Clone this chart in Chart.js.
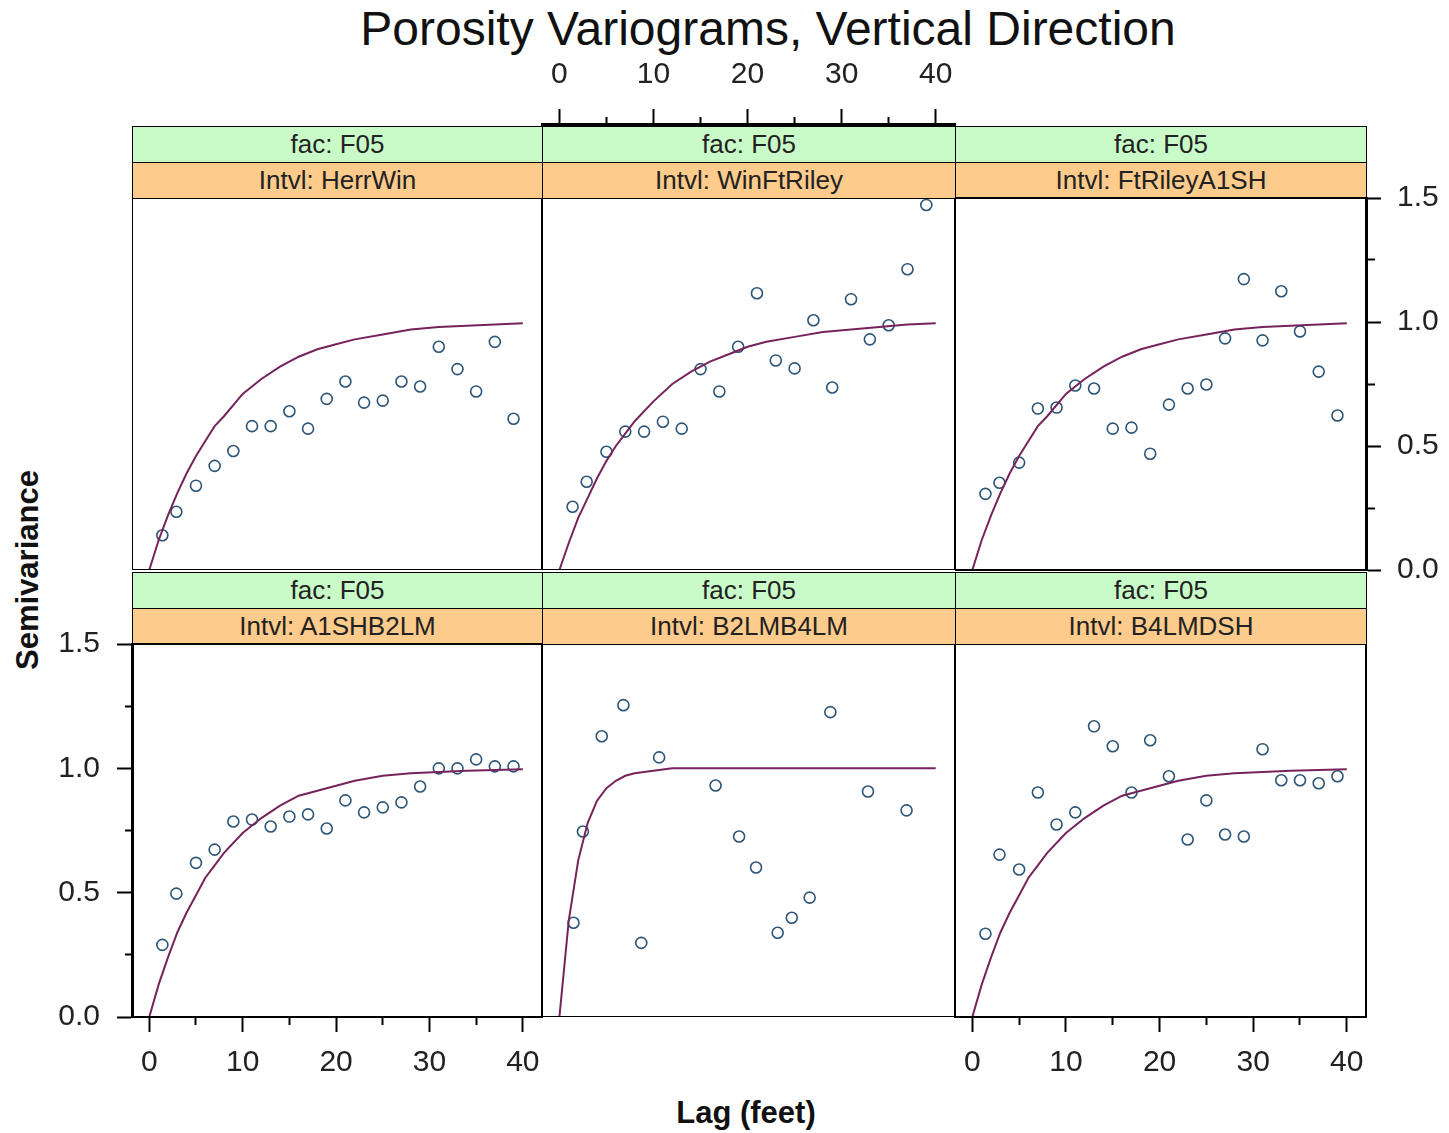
<!DOCTYPE html>
<html>
<head>
<meta charset="utf-8">
<title>Porosity Variograms</title>
<script src="https://cdn.jsdelivr.net/npm/chart.js@4.4.1/dist/chart.umd.min.js"></script>
<style>
  body { margin: 0; background: #fff; width: 1449px; height: 1133px; position: relative; overflow: hidden;
         font-family: 'Liberation Sans', Arial, sans-serif; }
  canvas { position: absolute; }
  .strip { position: absolute; box-sizing: border-box; border: 1px solid #000; text-align: center;
           font-size: 26px; color: #222; }
  .green { background: #c8fbc8; }
  .orange { background: #fdcb8b; }
  #title { position: absolute; left: 768px; top: 5px; transform: translateX(-50%); white-space: nowrap;
           font-size: 48px; line-height: 48px; color: #111; }
  #ylab { position: absolute; left: 28px; top: 570px; transform: translate(-50%, -50%) rotate(-90deg);
          white-space: nowrap; font-size: 31px; font-weight: bold; color: #111; }
  #xlab { position: absolute; left: 746px; top: 1113px; transform: translate(-50%, -50%);
          white-space: nowrap; font-size: 31px; font-weight: bold; color: #111; }
</style>
</head>
<body>
<div id="title">Porosity Variograms, Vertical Direction</div>
<div id="ylab">Semivariance</div>
<div id="xlab">Lag (feet)</div>
<script>
// lag distances (feet) of the experimental variogram points
var lags = [1.4, 2.9, 5, 7, 9, 11, 13, 15, 17, 19, 21, 23, 25, 27, 29, 31, 33, 35, 37, 39];
var lagsB2LM = [1.5, 2.5, 4.5, 6.8, 8.7, 10.6, 16.6, 19.1, 20.9, 23.2, 24.7, 26.6, 28.8, 32.8, 36.9];

// experimental semivariance per interval
var herrWin     = [0.14, 0.235, 0.34, 0.42, 0.48, 0.58, 0.58, 0.64, 0.57, 0.69, 0.76, 0.675, 0.683, 0.76, 0.74, 0.90, 0.81, 0.72, 0.92, 0.61];
var winFtRiley  = [0.255, 0.356, 0.477, 0.558, 0.558, 0.598, 0.57, 0.81, 0.72, 0.90, 1.116, 0.845, 0.813, 1.007, 0.736, 1.092, 0.93, 0.987, 1.213, 1.472];
var ftRileyA1SH = [0.307, 0.352, 0.433, 0.651, 0.655, 0.744, 0.732, 0.57, 0.574, 0.469, 0.667, 0.732, 0.748, 0.934, 1.173, 0.926, 1.124, 0.962, 0.80, 0.623];
var a1shB2LM    = [0.29, 0.496, 0.62, 0.673, 0.786, 0.794, 0.766, 0.806, 0.815, 0.758, 0.871, 0.823, 0.843, 0.863, 0.927, 1.0, 1.0, 1.036, 1.008, 1.008];
var b2lmB4LM    = [0.379, 0.746, 1.129, 1.254, 0.298, 1.044, 0.931, 0.726, 0.601, 0.339, 0.399, 0.48, 1.226, 0.907, 0.831];
var b4lmDSH     = [0.335, 0.653, 0.593, 0.903, 0.774, 0.823, 1.169, 1.089, 0.903, 1.113, 0.968, 0.714, 0.871, 0.734, 0.726, 1.077, 0.952, 0.952, 0.94, 0.968];

// fitted model curves
var curveLags   = [0, 1, 2, 3, 4, 5, 6, 7, 8, 10, 12, 14, 16, 18, 20, 22, 25, 28, 31, 34, 37, 40];
var modelHerr   = [0, 0.12, 0.22, 0.31, 0.39, 0.46, 0.52, 0.58, 0.62, 0.71, 0.77, 0.82, 0.86, 0.89, 0.91, 0.93, 0.95, 0.97, 0.98, 0.985, 0.99, 0.995];
var modelWin    = [0, 0.11, 0.21, 0.29, 0.37, 0.44, 0.50, 0.55, 0.60, 0.68, 0.75, 0.80, 0.84, 0.87, 0.90, 0.92, 0.94, 0.96, 0.97, 0.98, 0.99, 0.995];
var modelFtR    = [0, 0.12, 0.22, 0.31, 0.39, 0.46, 0.52, 0.58, 0.62, 0.71, 0.77, 0.82, 0.86, 0.89, 0.91, 0.93, 0.95, 0.97, 0.98, 0.985, 0.99, 0.995];
var modelA1SH   = [0, 0.13, 0.24, 0.34, 0.42, 0.49, 0.56, 0.61, 0.66, 0.74, 0.80, 0.85, 0.89, 0.91, 0.93, 0.95, 0.97, 0.98, 0.985, 0.99, 0.993, 0.996];
var modelB2LM   = [0, 0.39, 0.63, 0.78, 0.87, 0.92, 0.95, 0.97, 0.98, 0.99, 1.0, 1.0, 1.0, 1.0, 1.0, 1.0, 1.0, 1.0, 1.0, 1.0, 1.0, 1.0];
var modelB4LM   = [0, 0.13, 0.24, 0.34, 0.42, 0.49, 0.56, 0.61, 0.66, 0.74, 0.80, 0.85, 0.89, 0.91, 0.93, 0.95, 0.97, 0.98, 0.985, 0.99, 0.993, 0.996];

// axis ticks
var lagTicks  = [0, 5, 10, 15, 20, 25, 30, 35, 40];
var semiTicks = [0, 0.25, 0.5, 0.75, 1.0, 1.25, 1.5];

var facLabel = 'fac: F05';
var intervals = ['HerrWin', 'WinFtRiley', 'FtRileyA1SH', 'A1SHB2LM', 'B2LMB4LM', 'B4LMDSH'];

var pointColor = '#2c5577';
var lineColor = '#76235b';
var tickFont = { family: "'Liberation Sans', Arial, sans-serif", size: 30 };

var colX = [132, 542, 955, 1366];
var rowY = [198, 644];
var rowBottom = [570, 1017];
var M = 50; // spare room around a plot for axis labels

// minor ticks: only a short piece of the tick line is drawn
function xDash(pos) {
  return function (ctx) {
    if (!ctx.tick) return [];
    if (ctx.tick.value % 10 === 0) return [];
    return pos === 'top' ? [0, 8, 7, 100] : [7, 100];
  };
}
function yDash(pos) {
  return function (ctx) {
    if (!ctx.tick) return [];
    var v = Math.round(ctx.tick.value * 100);
    if (v % 50 === 0) return [];
    return pos === 'left' ? [0, 8, 7, 100] : [7, 100];
  };
}

function xScale(show, pos, size, pad) {
  return {
    type: 'linear', min: -1.85, max: 42.05, position: pos, display: show,
    afterBuildTicks: function (s) { s.ticks = lagTicks.map(function (v) { return { value: v }; }); },
    afterFit: function (s) { if (show) s.height = size; },
    border: { display: true, color: '#000', width: pos === 'top' ? 3 : 2 },
    grid: { drawOnChartArea: false, tickLength: 15, tickWidth: 2, tickColor: '#000', tickBorderDash: xDash(pos) },
    ticks: { autoSkip: false, maxRotation: 0, padding: pad, color: '#222', font: tickFont,
             callback: function (v) { return v % 10 === 0 ? String(v) : ''; } }
  };
}

function yScale(show, pos, size, pad) {
  return {
    type: 'linear', min: 0, max: 1.5, position: pos, display: show,
    afterBuildTicks: function (s) { s.ticks = semiTicks.map(function (v) { return { value: v }; }); },
    afterFit: function (s) { if (show) s.width = size; },
    border: { display: true, color: '#000', width: 3 },
    grid: { drawOnChartArea: false, tickLength: 15, tickWidth: 2, tickColor: '#000', tickBorderDash: yDash(pos) },
    ticks: { autoSkip: false, padding: pad, color: '#222', font: tickFont,
             callback: function (v) { return Math.round(v * 100) % 50 === 0 ? v.toFixed(1) : ''; } }
  };
}

var frame = {
  id: 'frame',
  afterDraw: function (chart) {
    if (!chart.options.plugins.frame || !chart.options.plugins.frame.on) return;
    var a = chart.chartArea, c = chart.ctx;
    c.save();
    c.strokeStyle = '#000';
    c.lineWidth = 2;
    c.strokeRect(a.left, a.top, a.right - a.left, a.bottom - a.top);
    c.restore();
  }
};

function addCanvas(x, y, w, h) {
  var cv = document.createElement('canvas');
  cv.width = w; cv.height = h;
  cv.style.left = x + 'px'; cv.style.top = y + 'px';
  cv.style.width = w + 'px'; cv.style.height = h + 'px';
  document.body.appendChild(cv);
  return cv;
}

function addStrips(col, row, name) {
  var left = colX[col], width = colX[col + 1] - colX[col];
  var top = rowY[row] - 72;
  [[facLabel, 'green', top], ['Intvl: ' + name, 'orange', top + 36]].forEach(function (s) {
    var d = document.createElement('div');
    d.className = 'strip ' + s[1];
    d.style.left = left + 'px'; d.style.top = s[2] + 'px';
    d.style.width = (width + 1) + 'px'; d.style.height = '37px';
    d.style.lineHeight = '35px';
    d.textContent = s[0];
    document.body.appendChild(d);
  });
}

// each panel: which axes it shows, canvas box around the plot area
function makePanel(col, row, name, pLags, vals, model, axes) {
  addStrips(col, row, name);
  var left = colX[col], right = colX[col + 1], top = rowY[row], bottom = rowBottom[row];
  var pad = { left: 0, right: 0, top: 0, bottom: 0 };
  var x0 = left, y0 = top, x1 = right, y1 = bottom;
  if (axes.left) { x0 = 0; pad.top = M; y0 = top - M; }
  if (axes.right) { x1 = 1449; pad.top = M; pad.bottom = M; y0 = top - M; y1 = bottom + M; }
  if (axes.bottom) {
    y1 = bottom + 73; pad.right = M; x1 = right + M;
    if (!axes.left) { pad.left = M; x0 = left - M; }
  }

  var pts = [];
  pLags.forEach(function (lag, i) { pts.push({ x: lag, y: vals[i] }); });
  var curve = curveLags.map(function (lag, i) { return { x: lag, y: model[i] }; });

  var cv = addCanvas(x0, y0, x1 - x0, y1 - y0);
  new Chart(cv.getContext('2d'), {
    type: 'scatter',
    data: {
      datasets: [
        { data: curve, showLine: true, borderColor: lineColor, borderWidth: 2, pointRadius: 0, fill: false },
        { data: pts, pointStyle: 'circle', pointRadius: 5.5, pointBorderWidth: 1.6,
          borderColor: pointColor, backgroundColor: 'rgba(0,0,0,0)' }
      ]
    },
    options: {
      responsive: false, animation: false, devicePixelRatio: 1,
      layout: { padding: pad, autoPadding: false },
      plugins: { legend: { display: false }, tooltip: { enabled: false }, frame: { on: true } },
      scales: {
        x: xScale(!!axes.bottom, 'bottom', 73, 13),
        y: yScale(!!(axes.left || axes.right), axes.left ? 'left' : 'right', axes.left ? 132 : 83, axes.left ? 17 : 16)
      }
    },
    plugins: [frame]
  });
}

makePanel(0, 0, intervals[0], lags, herrWin, modelHerr, {});
makePanel(1, 0, intervals[1], lags, winFtRiley, modelWin, {});
makePanel(2, 0, intervals[2], lags, ftRileyA1SH, modelFtR, { right: true });
makePanel(0, 1, intervals[3], lags, a1shB2LM, modelA1SH, { left: true, bottom: true });
makePanel(1, 1, intervals[4], lagsB2LM, b2lmB4LM, modelB2LM, {});
makePanel(2, 1, intervals[5], lags, b4lmDSH, modelB4LM, { bottom: true });

// lag axis on top of the middle column
(function () {
  var cv = addCanvas(colX[1] - M, 40, colX[2] - colX[1] + 2 * M, 90);
  new Chart(cv.getContext('2d'), {
    type: 'scatter',
    data: { datasets: [] },
    options: {
      responsive: false, animation: false, devicePixelRatio: 1,
      layout: { padding: { left: M, right: M, top: 0, bottom: 0 }, autoPadding: false },
      plugins: { legend: { display: false }, tooltip: { enabled: false } },
      scales: {
        x: xScale(true, 'top', 84, 16),
        y: { display: false, min: 0, max: 1 }
      }
    }
  });
})();
</script>
</body>
</html>
